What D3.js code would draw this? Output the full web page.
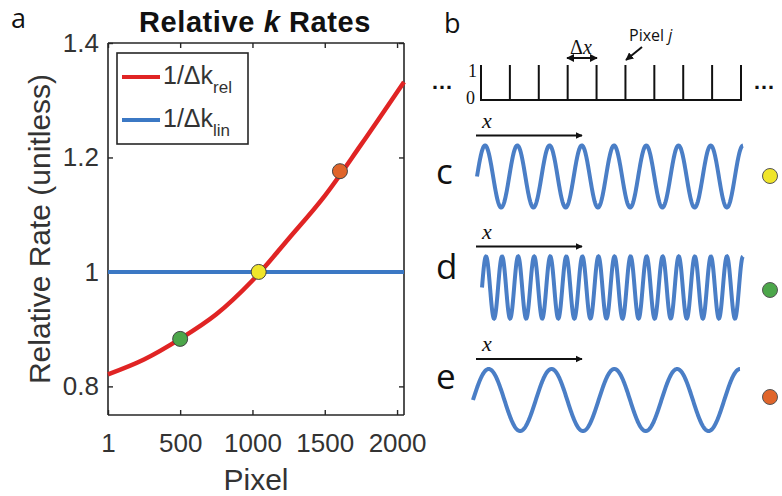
<!DOCTYPE html>
<html><head><meta charset="utf-8">
<script src="https://cdn.jsdelivr.net/npm/d3@7"></script>
<style>
html,body{margin:0;padding:0;background:#fff;}
svg{display:block;}
</style></head>
<body>
<svg id="chart" width="782" height="496"></svg>
<script>
// ---- data ----
const pixels = [1, 250, 500, 750, 1000, 1250, 1500, 1750, 2048];
const relRate = [0.821, 0.847, 0.883, 0.926, 0.985, 1.058, 1.133, 1.222, 1.332];
const linRate = [1, 1];
const linPixels = [1, 2048];
const markerPixels = [500, 1043, 1605];
const markerRates = [0.883, 1.0, 1.176];
const markerColors = ["#4ca64a", "#f0e52a", "#e0652a"];
const xTicks = [1, 500, 1000, 1500, 2000];
const yTicks = [0.8, 1, 1.2, 1.4];
const yTickLabels = ["0.8", "1", "1.2", "1.4"];
const legendLabels = ["rel", "lin"];
const seriesColors = ["#e02424", "#3b78c4"];
const gridIndex = d3.range(10);
const waveLabels = ["c", "d", "e"];
const waveCycles = [8.25, 16.25, 4.25];
const waveDots = ["#f0e52a", "#4ca64a", "#e0652a"];

const svg = d3.select("#chart");
const dark = "#262626";

// ---- panel a ----
const x = d3.scaleLinear().domain([1, 2048]).range([108, 404]);
const y = d3.scaleLinear().domain([0.75, 1.4]).range([415, 43]);

const font = "'Liberation Sans', Arial, Helvetica, sans-serif";
const letterFont = "'Open Sans', 'Noto Sans', sans-serif";

svg.append("text").attr("x", 11).attr("y", 28).attr("font-family", letterFont)
  .attr("font-size", 27).attr("fill", "#111").text("a");

// title
const title = svg.append("text").attr("x", 255).attr("y", 32).attr("text-anchor", "middle")
  .attr("font-family", font).attr("font-size", 29).attr("font-weight", "bold").attr("fill", "#111")
  .attr("letter-spacing", 0.6);
title.append("tspan").text("Relative ");
title.append("tspan").attr("font-style", "italic").text("k");
title.append("tspan").text(" Rates");

// axes
const axB = d3.axisBottom(x).tickValues(xTicks).tickSize(-5).tickPadding(19).tickFormat(d3.format("d"));
const axT = d3.axisTop(x).tickValues(xTicks).tickSize(-5).tickFormat("");
const axL = d3.axisLeft(y).tickValues(yTicks).tickSize(-5).tickPadding(9).tickFormat((d, i) => yTickLabels[i]);
const axR = d3.axisRight(y).tickValues(yTicks).tickSize(-5).tickFormat("");

function styleAxis(g) {
  g.select(".domain").attr("stroke", dark).attr("stroke-width", 1.6);
  g.selectAll(".tick line").attr("stroke", dark).attr("stroke-width", 1.4);
  g.selectAll(".tick text").attr("font-family", font).attr("font-size", 26).attr("fill", "#333");
}
svg.append("g").attr("transform", "translate(0,415)").call(axB).call(styleAxis)
  .call(g => g.select(".domain").attr("d", "M108,0H404"));
svg.append("g").attr("transform", "translate(0,43)").call(axT).call(styleAxis)
  .call(g => g.select(".domain").attr("d", "M108,0H404"));
svg.append("g").attr("transform", "translate(108,0)").call(axL).call(styleAxis)
  .call(g => g.select(".domain").attr("d", "M0,43V415"));
svg.append("g").attr("transform", "translate(404,0)").call(axR).call(styleAxis)
  .call(g => g.select(".domain").attr("d", "M0,43V415"));

// axis labels
svg.append("text").attr("x", 256).attr("y", 490).attr("text-anchor", "middle")
  .attr("font-family", font).attr("font-size", 30).attr("fill", "#333").text("Pixel");
svg.append("text").attr("transform", "translate(50,229) rotate(-90)").attr("text-anchor", "middle")
  .attr("font-family", font).attr("font-size", 30).attr("fill", "#333").text("Relative Rate (unitless)");

// lines
const line = d3.line().x(d => x(d[0])).y(d => y(d[1]));
svg.append("path").datum(d3.zip(linPixels, linRate)).attr("d", line)
  .attr("fill", "none").attr("stroke", seriesColors[1]).attr("stroke-width", 4);
svg.append("path").datum(d3.zip(pixels, relRate)).attr("d", line.curve(d3.curveCatmullRom.alpha(0.5)))
  .attr("fill", "none").attr("stroke", seriesColors[0]).attr("stroke-width", 4.5);

svg.selectAll("circle.mk").data(d3.zip(markerPixels, markerRates, markerColors)).join("circle")
  .attr("class", "mk").attr("cx", d => x(d[0])).attr("cy", d => y(d[1])).attr("r", 7.5)
  .attr("fill", d => d[2]).attr("stroke", "#444").attr("stroke-width", 1);

// legend
const lg = svg.append("g");
lg.append("rect").attr("x", 117).attr("y", 53).attr("width", 131).attr("height", 91)
  .attr("fill", "#fff").attr("stroke", dark).attr("stroke-width", 1.6);
legendLabels.forEach((lab, i) => {
  const ly = 77 + i * 43;
  lg.append("line").attr("x1", 122).attr("x2", 160).attr("y1", ly).attr("y2", ly)
    .attr("stroke", seriesColors[i]).attr("stroke-width", 4);
  const t = lg.append("text").attr("x", 163).attr("y", ly + 7).attr("font-family", font)
    .attr("font-size", 25).attr("fill", "#333");
  t.append("tspan").text("1/\u0394k");
  t.append("tspan").attr("font-size", 17).attr("dy", 9).text(lab);
});

// ---- panel b ----
svg.append("text").attr("x", 444).attr("y", 33).attr("font-family", letterFont)
  .attr("font-size", 27).attr("fill", "#111").text("b");

const gx = d3.scaleLinear().domain([0, 9]).range([481, 741]);
const gb = svg.append("g");
gb.append("line").attr("x1", 480).attr("x2", 742).attr("y1", 100).attr("y2", 100)
  .attr("stroke", "#111").attr("stroke-width", 2);
gb.selectAll("line.g").data(gridIndex).join("line").attr("class", "g")
  .attr("x1", d => gx(d)).attr("x2", d => gx(d)).attr("y1", 65).attr("y2", 100)
  .attr("stroke", "#111").attr("stroke-width", 2);
gb.append("text").attr("x", 468).attr("y", 77).attr("font-family", "'Liberation Serif', serif")
  .attr("font-size", 18).attr("fill", "#111").text("1");
gb.append("text").attr("x", 466).attr("y", 104).attr("font-family", "'Liberation Serif', serif")
  .attr("font-size", 18).attr("fill", "#111").text("0");
gb.append("text").attr("x", 431).attr("y", 89).attr("font-family", font)
  .attr("font-size", 22).attr("font-weight", "bold").attr("fill", "#111").text("\u2026");
gb.append("text").attr("x", 753).attr("y", 89).attr("font-family", font)
  .attr("font-size", 22).attr("font-weight", "bold").attr("fill", "#111").text("\u2026");

// markers
const defs = svg.append("defs");
defs.append("marker").attr("id", "ah").attr("viewBox", "0 0 10 10").attr("refX", 9).attr("refY", 5)
  .attr("markerWidth", 4).attr("markerHeight", 4).attr("orient", "auto-start-reverse")
  .attr("markerUnits", "strokeWidth")
  .append("path").attr("d", "M0,0L10,5L0,10z").attr("fill", "#111");

gb.append("line").attr("x1", 567).attr("x2", 597).attr("y1", 58).attr("y2", 58)
  .attr("stroke", "#111").attr("stroke-width", 2)
  .attr("marker-start", "url(#ah)").attr("marker-end", "url(#ah)");
const dxT = gb.append("text").attr("x", 581).attr("y", 54).attr("text-anchor", "middle")
  .attr("font-family", "'Liberation Serif', serif").attr("font-size", 20).attr("fill", "#111");
dxT.append("tspan").text("\u0394");
dxT.append("tspan").attr("font-style", "italic").text("x");
const pj = gb.append("text").attr("x", 629).attr("y", 41).attr("font-family", letterFont)
  .attr("font-size", 16).attr("fill", "#111");
pj.append("tspan").text("Pixel ");
pj.append("tspan").attr("font-style", "italic").text("j");
gb.append("line").attr("x1", 642).attr("y1", 47).attr("x2", 626).attr("y2", 60)
  .attr("stroke", "#111").attr("stroke-width", 2).attr("marker-end", "url(#ah)");

// ---- waves c, d, e ----
const waveX0 = [477, 482, 473];
const waveX1 = [743, 743, 740];
const waveCy = [176.5, 287.5, 400];
const labelY = [184, 279, 389];
const dotY = [176, 290, 397];
const wline = d3.line().curve(d3.curveLinear);
waveLabels.forEach((lab, i) => {
  const g = svg.append("g");
  g.append("text").attr("x", 436).attr("y", labelY[i]).attr("font-family", letterFont)
    .attr("font-size", 35).attr("fill", "#111").text(lab);
  const arrowY = waveCy[i] - 41;
  g.append("line").attr("x1", 476).attr("x2", 582).attr("y1", arrowY).attr("y2", arrowY)
    .attr("stroke", "#111").attr("stroke-width", 1.8).attr("marker-end", "url(#ah)");
  g.append("text").attr("x", 482).attr("y", arrowY - 8).attr("font-family", "'Liberation Serif', serif")
    .attr("font-style", "italic").attr("font-size", 22).attr("fill", "#111").text("x");
  const ws = d3.scaleLinear().domain([0, 1]).range([waveX0[i], waveX1[i]]);
  const pts = d3.range(0, 1.0001, 1 / 800).map(t => [ws(t), waveCy[i] - 31 * Math.sin(2 * Math.PI * waveCycles[i] * t)]);
  g.append("path").attr("d", wline(pts)).attr("fill", "none")
    .attr("stroke", "#4a7ec6").attr("stroke-width", 4);
  g.append("circle").attr("cx", 770).attr("cy", dotY[i]).attr("r", 7.5)
    .attr("fill", waveDots[i]).attr("stroke", "#555").attr("stroke-width", 1);
});
</script>
</body></html>
